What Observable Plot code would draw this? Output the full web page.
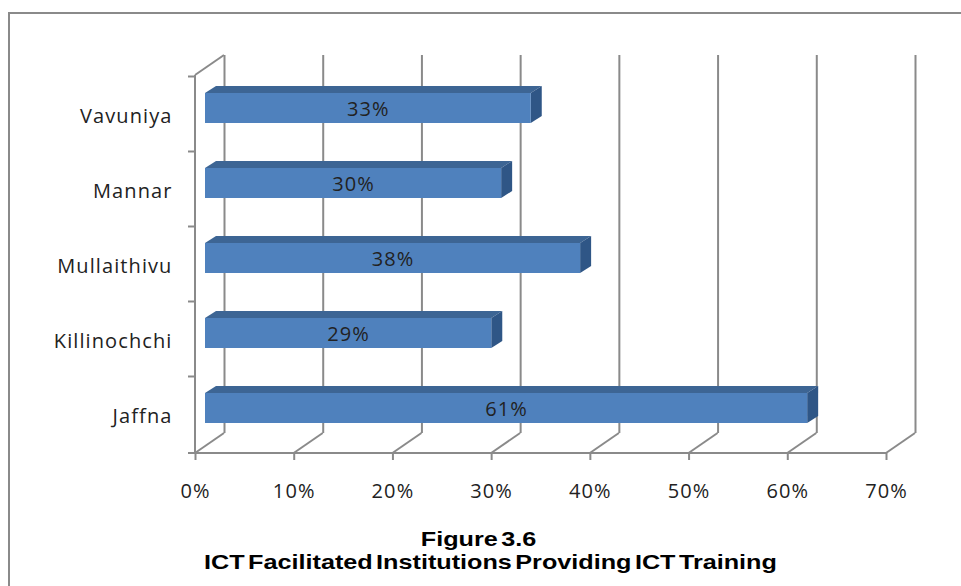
<!DOCTYPE html>
<html>
<head>
<meta charset="utf-8">
<script src="https://cdn.jsdelivr.net/npm/d3@7"></script>
<script src="https://cdn.jsdelivr.net/npm/@observablehq/plot@0.6"></script>
<style>
html, body { margin: 0; padding: 0; background: #fff; overflow: hidden; }
#wrap { position: relative; width: 961px; height: 586px; overflow: hidden; }
#chart { position: absolute; left: 0; top: 0; }
#frame { position: absolute; left: 8px; top: 12px; right: -10px; bottom: -10px;
  border-top: 2px solid #8a8a8a; border-left: 2px solid #8a8a8a; pointer-events: none; }
.t { position: absolute; left: 0; width: 961px; text-align: center; white-space: nowrap;
  font: bold 21px "Liberation Sans", Arial, sans-serif; line-height: 24px;
  word-spacing: -3px; color: #000; transform: scaleX(1.2); }
#t1 { top: 527px; left: -2px; }
#t2 { top: 550px; left: 10px; }
</style>
</head>
<body>
<div id="wrap">
  <div id="chart"></div>
  <div id="frame"></div>
  <div class="t" id="t1">Figure 3.6</div>
  <div class="t" id="t2">ICT Facilitated Institutions Providing ICT Training</div>
</div>
<script>
// ---- data ----
const districts = ["Vavuniya", "Mannar", "Mullaithivu", "Killinochchi", "Jaffna"];
const shares = [0.33, 0.30, 0.38, 0.29, 0.61];
const xTicks = [0, 0.1, 0.2, 0.3, 0.4, 0.5, 0.6, 0.7];

const data = districts.map((d, i) => ({district: d, share: shares[i]}));

// ---- 3D styling ----
const gridColor = "#8a8a8a";
const wall = {dx: 29, dy: -20};     // back wall offset (px)
const near = {dx: 10, dy: -6};      // bar front face offset
const far = {dx: 21, dy: -13};      // bar back face offset
const padInner = 0.6, padOuter = 0.3;
const colors = {front: "#4f81bd", top: "#3d6594", side: "#2f5686"};

function bandInfo(y) {
  const step = y(districts[1]) - y(districts[0]);
  return {step, bw: step * (1 - padInner)};
}

// floor diagonals, floor edge, left wall
function walls(index, scales, values, dims) {
  const {x, y} = scales;
  const top = dims.marginTop, bottom = dims.height - dims.marginBottom;
  const {step} = bandInfo(y);
  const x0 = x(xTicks[0]), xN = x(xTicks[xTicks.length - 1]);
  const g = d3.create("svg:g")
    .attr("stroke", gridColor).attr("stroke-width", 2).attr("fill", "none");
  for (const t of xTicks) {
    g.append("line").attr("x1", x(t)).attr("y1", bottom)
      .attr("x2", x(t) + wall.dx).attr("y2", bottom + wall.dy);
  }
  g.append("line").attr("x1", x0).attr("y1", bottom).attr("x2", xN).attr("y2", bottom);
  g.append("line").attr("x1", x0).attr("y1", top).attr("x2", x0).attr("y2", bottom);
  g.append("line").attr("x1", x0).attr("y1", top)
    .attr("x2", x0 + wall.dx).attr("y2", top + wall.dy);
  const bounds = districts.map(d => y(d) - step * padInner / 2);
  bounds.push(bottom);
  for (const b of bounds) {
    g.append("line").attr("x1", x0 - 7).attr("y1", b).attr("x2", x0).attr("y2", b);
  }
  return g.node();
}

function bars(index, scales, values, dims) {
  const {x, y} = scales;
  const {bw} = bandInfo(y);
  const g = d3.create("svg:g");
  for (const d of data) {
    const xa = x(0), xb = x(d.share);
    const yt = y(d.district), yb = yt + bw;
    const pts = a => a.map(p => p.join(",")).join(" ");
    g.append("polygon").attr("fill", colors.top).attr("points", pts([
      [xa + near.dx, yt + near.dy], [xb + near.dx, yt + near.dy],
      [xb + far.dx, yt + far.dy], [xa + far.dx, yt + far.dy]]));
    g.append("polygon").attr("fill", colors.side).attr("points", pts([
      [xb + near.dx, yt + near.dy], [xb + far.dx, yt + far.dy],
      [xb + far.dx, yb + far.dy], [xb + near.dx, yb + near.dy]]));
    g.append("rect").attr("fill", colors.front)
      .attr("x", xa + near.dx).attr("y", yt + near.dy)
      .attr("width", xb - xa).attr("height", bw);
  }
  return g.node();
}

const chart = Plot.plot({
  width: 961,
  height: 524,
  marginLeft: 195,
  marginRight: 75,
  marginTop: 75,
  marginBottom: 71,
  style: {fontFamily: "'Open Sans', sans-serif", fontSize: "20px", letterSpacing: "1.1px", color: "#222", background: "none"},
  x: {domain: [0, 0.7]},
  y: {type: "band", domain: districts, paddingInner: padInner, paddingOuter: padOuter, align: 0.5},
  marks: [
    Plot.ruleX(xTicks, {x: d => d, dx: wall.dx, dy: wall.dy, stroke: gridColor, strokeWidth: 2}),
    walls,
    bars,
    Plot.text(data, {x: d => d.share / 2, y: "district", text: d => d3.format(".0%")(d.share),
      dx: near.dx, dy: near.dy + 1, fill: "#222", fontSize: 20}),
    Plot.axisY({tickSize: 0, tickPadding: 23, dy: 2, fontSize: 20, fill: "#222", label: null}),
    Plot.axisX(xTicks, {tickSize: 7, tickPadding: 23, tickFormat: d3.format(".0%"),
      stroke: gridColor, strokeWidth: 2, fill: "#222", fontSize: 20, label: null})
  ]
});
document.getElementById("chart").appendChild(chart);
</script>
</body>
</html>
